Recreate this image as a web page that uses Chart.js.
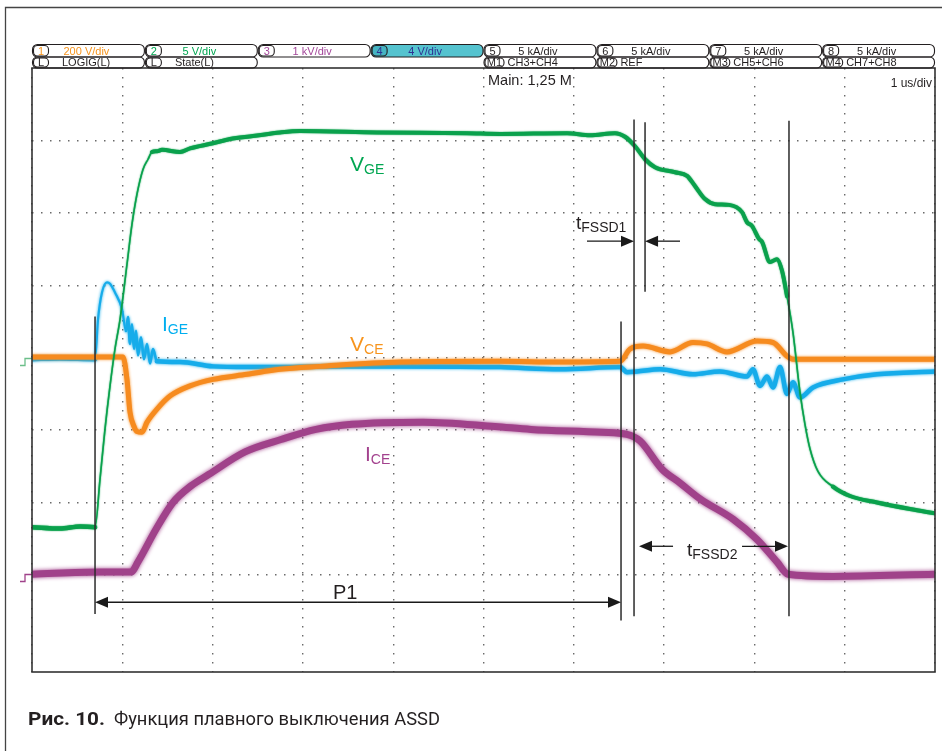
<!DOCTYPE html>
<html>
<head>
<meta charset="utf-8">
<script src="https://cdn.jsdelivr.net/npm/chart.js@4.4.1/dist/chart.umd.min.js"></script>
<style>
  html, body { margin: 0; padding: 0; background: #fff; }
</style>
</head>
<body>
<canvas id="osc" width="942" height="751"></canvas>
<script>
// Время в делениях (1 us/div), уровни в делениях экрана (0 = линия CH1)
const vgeTime = [0, 0.310, 0.532, 0.698, 0.753, 0.808, 0.864, 0.919, 0.975, 1.052, 1.107, 1.163, 1.229, 1.285,
  1.329, 1.384, 1.440, 1.639, 1.750, 2.004, 2.193, 2.447, 2.746, 2.968, 3.821, 4.817, 5.183, 5.925, 6.179,
  6.456, 6.567, 6.678, 6.789, 6.899, 7.121, 7.254, 7.342, 7.453, 7.564, 7.719, 7.863, 7.918, 7.973, 8.051,
  8.084, 8.173, 8.250, 8.306, 8.361, 8.427, 8.505, 8.560, 8.616, 8.704, 8.870, 9.059, 9.358, 9.723, 10];
const vgeValue = [-2.34, -2.36, -2.33, -2.34, -1.68, -0.99, -0.39, 0.12, 0.53, 1.29, 1.84, 2.26, 2.60, 2.74,
  2.84, 2.85, 2.87, 2.84, 2.89, 2.96, 3.02, 3.06, 3.11, 3.13, 3.11, 3.10, 3.09, 3.10, 3.07,
  3.10, 3.05, 2.92, 2.74, 2.63, 2.56, 2.51, 2.37, 2.19, 2.12, 2.11, 2.01, 1.87, 1.82, 1.64,
  1.60, 1.32, 1.36, 1.20, 0.85, 0.35, -0.48, -0.92, -1.26, -1.57, -1.78, -1.91, -2.00, -2.09, -2.15];

const igeTime = [0, 0.310, 0.698, 0.731, 0.775, 0.831, 0.864, 0.919, 0.997, 1.041, 1.063, 1.085, 1.107, 1.130,
  1.152, 1.174, 1.207, 1.240, 1.274, 1.307, 1.340, 1.384, 1.639, 2.004, 2.381, 2.746, 3.189, 4.075, 5.183,
  5.847, 6.512, 6.589, 6.700, 6.955, 7.320, 7.619, 7.918, 7.984, 8.062, 8.140, 8.206, 8.284, 8.361, 8.427,
  8.505, 8.649, 8.981, 9.358, 10];
const igeValue = [-0.02, -0.01, -0.02, 0.53, 0.90, 1.04, 1.02, 0.90, 0.67, 0.37, 0.56, 0.19, 0.46, 0.12,
  0.37, 0.03, 0.28, -0.02, 0.19, -0.08, 0.12, -0.05, -0.06, -0.12, -0.13, -0.13, -0.12, -0.12, -0.13,
  -0.16, -0.13, -0.20, -0.19, -0.16, -0.23, -0.19, -0.26, -0.16, -0.39, -0.26, -0.41, -0.13, -0.50, -0.34,
  -0.55, -0.41, -0.30, -0.23, -0.19];

const vceTime = [0, 0.698, 1.008, 1.052, 1.085, 1.130, 1.163, 1.218, 1.274, 1.384, 1.528, 1.750, 2.004, 2.381,
  2.746, 3.189, 4.075, 5.183, 5.847, 6.512, 6.623, 6.767, 7.066, 7.320, 7.475, 7.697, 8.029, 8.206, 8.361,
  8.427, 8.804, 10];
const vceValue = [0.01, 0.01, 0.01, -0.30, -0.75, -0.95, -1.02, -1.03, -0.89, -0.71, -0.53, -0.39, -0.30, -0.23,
  -0.16, -0.12, -0.06, -0.05, -0.06, -0.05, 0.12, 0.16, 0.08, 0.21, 0.19, 0.08, 0.23, 0.21, 0.02,
  -0.02, -0.02, -0.02];

const iceTime = [0, 0.753, 1.096, 1.174, 1.373, 1.561, 1.761, 1.960, 2.359, 2.757, 3.145, 3.544, 4.330, 5.127,
  5.526, 6.312, 6.589, 6.733, 6.977, 7.176, 7.398, 7.763, 8.029, 8.250, 8.372, 8.870, 10];
const iceValue = [-2.99, -2.96, -2.96, -2.82, -2.37, -2.00, -1.77, -1.61, -1.30, -1.13, -0.99, -0.92, -0.89, -0.95,
  -0.99, -1.03, -1.06, -1.15, -1.54, -1.73, -1.95, -2.23, -2.51, -2.82, -2.99, -3.02, -2.99];

// Курсоры: время, верх и низ линии
const cursorTime = [0.698, 6.523, 6.667, 6.789, 8.383];
const cursorTop = [0.57, 0.50, 3.29, 3.25, 3.27];
const cursorBottom = [-3.54, -3.63, -3.57, 0.91, -3.57];

// Шапка осциллографа
const channelNo = ['1', '2', '3', '4', '5', '6', '7', '8'];
const channelScale = ['200 V/div', '5 V/div', '1 kV/div', '4 V/div', '5 kA/div', '5 kA/div', '5 kA/div', '5 kA/div'];
const traceTag = ['L', 'L', '', '', 'M1', 'M2', 'M3', 'M4'];
const traceName = ['LOGIG(L)', 'State(L)', '', '', 'CH3+CH4', 'REF', 'CH5+CH6', 'CH7+CH8'];
const channelColor = ['#f7941d', '#00a651', '#a3479a', '#2e3192', '#231f20', '#231f20', '#231f20', '#231f20'];

const GREEN = '#0aa14c', BLUE = '#16acea', ORANGE = '#f68b1f', PURPLE = '#a0428a';
const FONT = '"Liberation Sans", Arial, sans-serif';

function pts(t, v) { return t.map((x, i) => ({ x: x, y: v[i] })); }

// толщина зелёного луча: шумные участки толще, фронты тонкие
function vgeWidth(ctx) {
  const t = ctx.p0.parsed.x;
  if (t < 0.69) return 4.5;
  if (t < 1.31) return 1.6;
  if (t < 8.36) return 4;
  if (t < 8.74) return 1.6;
  return 4;
}
function igeWidth(ctx) {
  const t = ctx.p0.parsed.x;
  if (t >= 0.69 && t < 1.0) return 2.2;
  if (t >= 1.0 && t < 1.38) return 2.6;
  return 4.5;
}

// мягкий край шумных лучей
const glow = {
  id: 'glow',
  beforeDatasetDraw(chart, args) {
    const ds = chart.data.datasets[args.index];
    chart.ctx.save();
    chart.ctx.shadowColor = ds.borderColor;
    chart.ctx.shadowBlur = ds.blur || 0;
  },
  afterDatasetDraw(chart) { chart.ctx.restore(); }
};

function pill(c, x, y, w, h, r, fill) {
  c.beginPath();
  c.roundRect(x, y, w, h, r);
  if (fill) { c.fillStyle = fill; c.fill(); }
  c.stroke();
}

function arrow(c, x1, x2, y) {
  const d = Math.sign(x2 - x1);
  c.beginPath(); c.moveTo(x1, y); c.lineTo(x2 - d * 10, y); c.stroke();
  c.beginPath(); c.moveTo(x2, y); c.lineTo(x2 - d * 13, y - 5.5); c.lineTo(x2 - d * 13, y + 5.5); c.closePath(); c.fill();
}

function label(c, x, y, main, sub, color, size, subSize) {
  c.fillStyle = color;
  c.textAlign = 'left';
  c.textBaseline = 'alphabetic';
  c.font = size + 'px ' + FONT;
  c.fillText(main, x, y);
  const w = c.measureText(main).width;
  c.font = subSize + 'px ' + FONT;
  c.fillText(sub, x + w, y + 3);
}

const decor = {
  id: 'decor',
  afterDraw(chart) {
    const c = chart.ctx, a = chart.chartArea;
    const xs = chart.scales.x, ys = chart.scales.y;
    const X = t => xs.getPixelForValue(t), Y = v => ys.getPixelForValue(v);
    c.save();

    // курсоры
    c.strokeStyle = '#2b2b2b'; c.lineWidth = 1.5;
    cursorTime.forEach((t, i) => {
      c.beginPath(); c.moveTo(X(t), Y(cursorTop[i])); c.lineTo(X(t), Y(cursorBottom[i])); c.stroke();
    });

    // стрелки
    c.fillStyle = '#1a1a1a'; c.strokeStyle = '#1a1a1a'; c.lineWidth = 1.3;
    arrow(c, X(6.146), X(6.667), Y(1.609));
    arrow(c, X(7.176), X(6.789), Y(1.609));
    arrow(c, X(7.099), X(6.722), Y(-2.604));
    arrow(c, X(7.863), X(8.372), Y(-2.604));
    arrow(c, X(3.6), X(0.698), Y(-3.377));
    arrow(c, X(3.6), X(6.523), Y(-3.377));

    // подписи лучей
    label(c, X(3.522), Y(2.576), 'V', 'GE', '#00a651', 21, 14);
    label(c, X(1.440), Y(0.366), 'I', 'GE', '#00aeef', 21, 14);
    label(c, X(3.522), Y(0.090), 'V', 'CE', '#f7941d', 21, 14);
    label(c, X(3.688), Y(-1.430), 'I', 'CE', '#a3428e', 21, 14);
    label(c, X(6.024), Y(1.775), 't', 'FSSD1', '#231f20', 19, 14);
    label(c, X(7.254), Y(-2.742), 't', 'FSSD2', '#231f20', 19, 14);
    label(c, X(3.333), Y(-3.338), 'P1', '', '#231f20', 20, 14);

    // метки нулевых уровней слева
    c.lineWidth = 1.3;
    [[0, '#6cbf8a'], [-2.99, PURPLE]].forEach(([v, col]) => {
      const y = Math.round(Y(v)) + 0.5;
      c.strokeStyle = col;
      c.beginPath(); c.moveTo(a.left - 12, y + 7); c.lineTo(a.left - 7, y + 7);
      c.lineTo(a.left - 7, y); c.lineTo(a.left, y); c.stroke();
    });

    // рамка экрана
    c.strokeStyle = '#333'; c.lineWidth = 1.6;
    c.strokeRect(a.left, a.top, a.right - a.left, a.bottom - a.top);

    // рамка страницы
    c.strokeStyle = '#444'; c.lineWidth = 1.3;
    c.beginPath(); c.moveTo(5.5, 751); c.lineTo(5.5, 7.5); c.lineTo(942, 7.5); c.stroke();

    // шапка каналов
    const bw = (a.right - a.left) / 8;
    c.lineWidth = 1.1; c.strokeStyle = '#231f20';
    c.textBaseline = 'middle';
    c.font = '11px ' + FONT;
    for (let i = 0; i < 8; i++) {
      const x = a.left + i * bw;
      pill(c, x + 0.5, 44.5, bw - 1, 12.5, 5, i === 3 ? '#55c3cf' : null);
      pill(c, x + 1.5, 45.5, 15, 10.5, 4, i === 3 ? '#46b4c2' : null);
      c.fillStyle = channelColor[i];
      c.textAlign = 'center';
      c.fillText(channelNo[i], x + 9, 51.5);
      c.fillText(channelScale[i], x + bw / 2 - 2, 51.5);
      if (traceTag[i]) {
        const tw = traceTag[i].length > 1 ? 19 : 15;
        pill(c, x + 0.5, 57, bw - 1, 11, 5, null);
        pill(c, x + 1.5, 58, tw, 9, 4, null);
        c.fillStyle = '#231f20';
        c.fillText(traceTag[i], x + 1.5 + tw / 2, 62.8);
        c.textAlign = 'left';
        c.fillText(traceName[i], x + (tw > 15 ? 24 : 30), 62.8);
      }
    }
    c.fillStyle = '#231f20';
    c.textBaseline = 'alphabetic';
    c.textAlign = 'left';
    c.font = '14.5px ' + FONT;
    c.fillText('Main: 1,25 M', 488, 85);
    c.textAlign = 'right';
    c.font = '12px ' + FONT;
    c.fillText('1 us/div', 932, 87);

    // подпись рисунка
    c.textAlign = 'left';
    c.fillStyle = '#231f20';
    c.font = 'bold 19px Roboto, ' + FONT;
    let w = c.measureText('Рис. 10.').width;
    c.save(); c.translate(28, 725); c.scale(77 / w, 1); c.fillText('Рис. 10.', 0, 0); c.restore();
    c.font = '19px Roboto, ' + FONT;
    w = c.measureText('Функция плавного выключения ASSD').width;
    c.save(); c.translate(114, 725); c.scale(326 / w, 1); c.fillText('Функция плавного выключения ASSD', 0, 0); c.restore();

    c.restore();
  }
};

const grid = { color: '#6a6a6a', lineWidth: 1.4, drawTicks: false };
const border = { display: false, dash: [1.5, 7.5] };

new Chart(document.getElementById('osc'), {
  type: 'line',
  data: {
    datasets: [
      { data: pts(vgeTime, vgeValue), borderColor: GREEN, borderWidth: 4, blur: 1.5,
        segment: { borderWidth: vgeWidth } },
      { data: pts(vceTime, vceValue), borderColor: ORANGE, borderWidth: 5, blur: 3 },
      { data: pts(igeTime, igeValue), borderColor: BLUE, borderWidth: 4.5, blur: 3,
        segment: { borderWidth: igeWidth } },
      { data: pts(iceTime, iceValue), borderColor: PURPLE, borderWidth: 7, blur: 4 }
    ]
  },
  options: {
    responsive: false,
    animation: false,
    devicePixelRatio: 1,
    layout: { padding: { left: 32, right: 7, top: 68, bottom: 79 } },
    elements: {
      point: { radius: 0 },
      line: { cubicInterpolationMode: 'monotone', borderJoinStyle: 'round', borderCapStyle: 'round' }
    },
    plugins: { legend: { display: false }, tooltip: { enabled: false } },
    scales: {
      x: { type: 'linear', min: 0, max: 10, ticks: { display: false, stepSize: 1 }, grid: grid, border: border },
      y: { type: 'linear', min: -4.34, max: 4, ticks: { display: false, stepSize: 1 }, grid: grid, border: border,
        afterBuildTicks: axis => { axis.ticks = [-3, -2, -1, 0, 1, 2, 3].map(v => ({ value: v })); } }
    }
  },
  plugins: [glow, decor]
});
</script>
</body>
</html>
